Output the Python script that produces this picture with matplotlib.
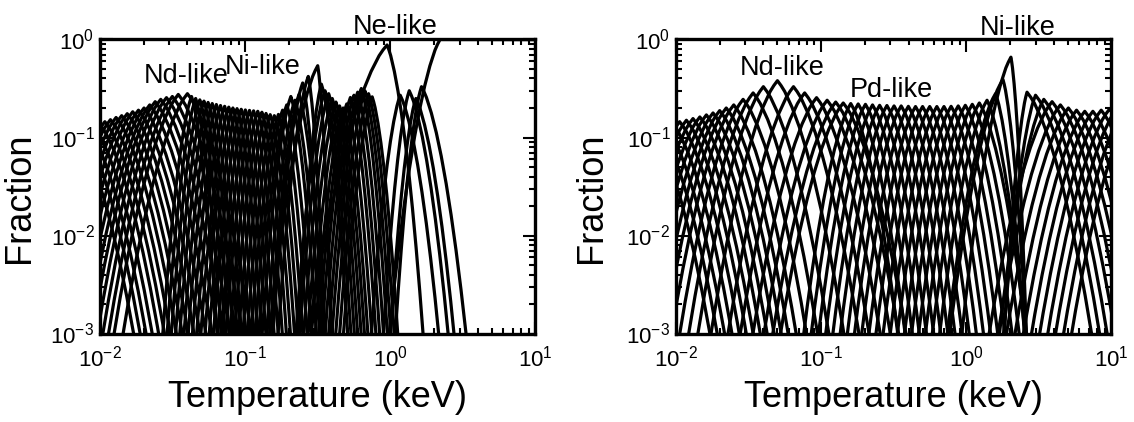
"""Charge-state fractions vs temperature, two panels, log-log."""
import numpy as np
import matplotlib
matplotlib.use("Agg")
import matplotlib.pyplot as plt
from matplotlib.ticker import LogLocator, NullFormatter, LogFormatterSciNotation

plt.rcParams['font.family'] = ['Liberation Sans', 'DejaVu Sans']
plt.rcParams['mathtext.fontset'] = 'custom'
plt.rcParams['mathtext.rm'] = 'Liberation Sans'
plt.rcParams['mathtext.it'] = 'Liberation Sans:italic'
plt.rcParams['mathtext.default'] = 'regular'

# shape of one stage's flank:
# distance from the peak (decades of T) -> drop below the peak (decades of fraction)
PROFILE_DX = np.array([0, 0.025, 0.05, 0.10, 0.15, 0.20, 0.25, 0.30, 0.35, 0.40, 0.45, 0.50, 0.55])
PROFILE_DROP = np.array([0, 0.05, 0.11, 0.27, 0.47, 0.71, 0.99, 1.31, 1.67, 2.07, 2.51, 2.99, 3.51])

# ---- left panel: peak temperature (keV), peak fraction, flank widths ----
left_peak_T = [0.0068, 0.0075, 0.0082, 0.0090, 0.0099, 0.0108, 0.0118, 0.0129,
               0.0141, 0.0154, 0.0168, 0.0184, 0.0201, 0.0220, 0.0240, 0.0262,
               0.0287, 0.0315, 0.0346, 0.0400, 0.0427, 0.0456, 0.0487, 0.0520,
               0.0555, 0.0593, 0.0633, 0.0676, 0.0722, 0.0771, 0.0823, 0.0879,
               0.0939, 0.1003, 0.1071, 0.1143, 0.1221, 0.1304, 0.1392, 0.1487,
               0.1588, 0.1695, 0.1810, 0.1933, 0.2064, 0.2204, 0.2350, 0.2490,
               0.2720, 0.3160, 0.3350, 0.3550, 0.3760, 0.3980, 0.4220, 0.4470,
               0.4730, 0.5010, 0.5310, 0.5620, 0.5960, 0.6310, 0.6680, 0.7080,
               0.7500, 0.9500, 1.1700, 1.3500, 1.5000, 1.6400, 2.2000]
left_peak_F = [0.115, 0.120, 0.125, 0.130, 0.138, 0.145, 0.152, 0.160,
               0.167, 0.175, 0.183, 0.190, 0.200, 0.215, 0.232, 0.245,
               0.255, 0.262, 0.275, 0.280, 0.262, 0.250, 0.242, 0.235,
               0.228, 0.222, 0.217, 0.212, 0.208, 0.204, 0.200, 0.197,
               0.194, 0.191, 0.189, 0.187, 0.185, 0.181, 0.176, 0.171,
               0.167, 0.172, 0.190, 0.215, 0.262, 0.240, 0.275, 0.360,
               0.420, 0.540, 0.350, 0.300, 0.280, 0.250, 0.230, 0.210,
               0.200, 0.220, 0.256, 0.270, 0.290, 0.316, 0.300, 0.280,
               0.260, 0.880, 0.270, 0.300, 0.250, 0.330, 1.000]
left_w_lo = [1.0] * 20 + [0.45] * 27 + [0.45, 0.45, 0.7, 0.35] + [0.45] * 14 + [1.1, 0.45, 0.4, 0.4, 0.4, 0.7]
left_w_hi = [1.0] * 20 + [0.4] * 27 + [0.3, 0.25, 0.2, 0.4] + [0.4] * 14 + [0.5, 0.6, 0.6, 0.6, 0.68, 1000.0]

# ---- right panel ----
right_peak_T = [0.0068, 0.0076, 0.0085, 0.0095, 0.0106, 0.0118, 0.0131, 0.0146,
                0.0162, 0.0180, 0.0200, 0.0222, 0.0250, 0.0290, 0.0340, 0.0400,
                0.0500, 0.0645, 0.0770, 0.0930, 0.1100, 0.1260, 0.1420, 0.1600,
                0.1800, 0.2020, 0.2260, 0.2530, 0.2840, 0.3180, 0.3560, 0.3990,
                0.4470, 0.5000, 0.5600, 0.6270, 0.7020, 0.7860, 0.8800, 0.9850,
                1.1000, 1.2300, 1.3900, 1.5900, 1.7900, 2.0300, 2.6200, 3.0000,
                3.4200, 3.9000, 4.4500, 5.0500, 5.7500, 6.5500, 7.4500, 8.5000,
                9.7000, 11.000, 12.500, 14.200]
right_peak_F = [0.120, 0.125, 0.130, 0.137, 0.145, 0.150, 0.156, 0.162,
                0.170, 0.178, 0.188, 0.200, 0.215, 0.245, 0.285, 0.330,
                0.380, 0.330, 0.285, 0.255, 0.240, 0.230, 0.225, 0.222,
                0.220, 0.218, 0.215, 0.213, 0.212, 0.210, 0.210, 0.208,
                0.207, 0.207, 0.207, 0.207, 0.207, 0.208, 0.210, 0.213,
                0.218, 0.225, 0.240, 0.280, 0.390, 0.660, 0.290, 0.270,
                0.245, 0.232, 0.215, 0.200, 0.190, 0.185, 0.185, 0.190,
                0.195, 0.200, 0.200, 0.200]
right_w_lo = [1.0] * 23 + [0.75] * 19 + [0.75, 0.75, 0.8, 0.7, 0.35, 0.5, 0.7] + [1.0] * 11
right_w_hi = [1.0] * 23 + [0.75] * 19 + [0.6, 0.45, 0.35, 0.22, 1.0, 1.0, 1.0] + [1.0] * 11

left_labels = [("Nd-like", 0.0199, 0.361), ("Ni-like", 0.0726, 0.44), ("Ne-like", 0.553, 1.14)]
right_labels = [("Nd-like", 0.0276, 0.43), ("Pd-like", 0.158, 0.259), ("Ni-like", 1.23, 1.11)]


def stage_curve(t_pk, f_pk, wl, wr):
    lt, lf = np.log10(t_pk), np.log10(f_pk)
    x = np.concatenate([lt - PROFILE_DX[::-1] * wl, lt + PROFILE_DX[1:] * wr])
    y = np.concatenate([lf - PROFILE_DROP[::-1], lf - PROFILE_DROP[1:]])
    return 10 ** x, 10 ** y


def draw_panel(ax, temps, fracs, w_lo, w_hi, labels):
    for t, f, wl, wr in zip(temps, fracs, w_lo, w_hi):
        x, y = stage_curve(t, f, wl, wr)
        ax.plot(x, y, color="k", lw=2.3)
    ax.set_xscale("log")
    ax.set_yscale("log")
    ax.set_xlim(1e-2, 1e1)
    ax.set_ylim(1e-3, 1)
    for axis in (ax.xaxis, ax.yaxis):
        axis.set_major_locator(LogLocator(base=10, numticks=10))
        axis.set_minor_locator(LogLocator(base=10, subs=np.arange(2, 10), numticks=10))
        axis.set_minor_formatter(NullFormatter())
        axis.set_major_formatter(LogFormatterSciNotation())
    ax.tick_params(which="both", direction="in", top=True, right=True, width=1.5)
    ax.tick_params(which="major", length=9, labelsize=16)
    ax.tick_params(which="minor", length=4.5)
    ax.tick_params(axis="x", which="major", pad=9)
    ax.tick_params(axis="y", which="major", pad=4)
    for s in ax.spines.values():
        s.set_linewidth(2.4)
    ax.set_xlabel("Temperature (keV)", fontsize=26, va="center")
    ax.xaxis.set_label_coords(0.5, -0.218)
    ax.set_ylabel("Fraction", fontsize=26, va="center")
    for text, t, f in labels:
        ax.text(t, f, text, fontsize=19.5, ha="left", va="baseline")


fig = plt.figure(figsize=(11.34, 4.22), dpi=100)
ax_l = fig.add_axes([0.0882, 0.2097, 0.384, 0.6967])
ax_r = fig.add_axes([0.5961, 0.2097, 0.384, 0.6967])

draw_panel(ax_l, left_peak_T, left_peak_F, left_w_lo, left_w_hi, left_labels)
draw_panel(ax_r, right_peak_T, right_peak_F, right_w_lo, right_w_hi, right_labels)
ax_l.yaxis.set_label_coords(-0.186, 0.463)
ax_r.yaxis.set_label_coords(-0.193, 0.463)

fig.savefig("out.png", dpi=100)
